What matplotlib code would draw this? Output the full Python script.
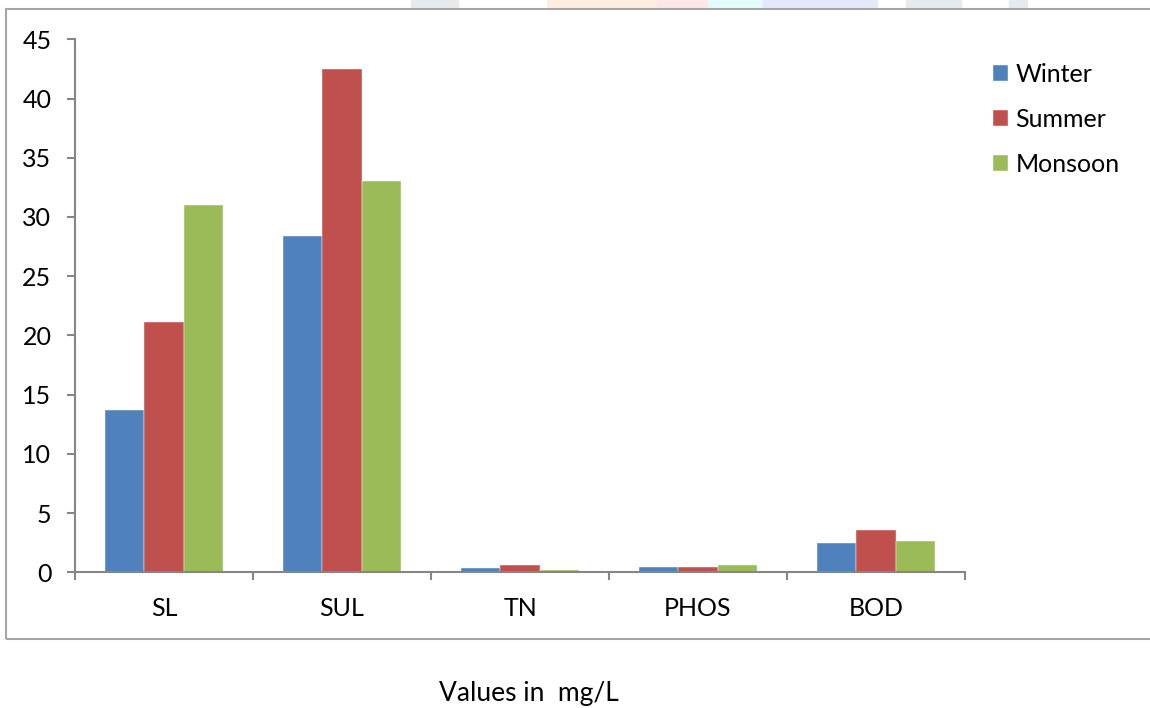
import matplotlib.pyplot as plt
import matplotlib.patches as mpatches
import numpy as np

plt.rcParams['font.family'] = ['Lato', 'DejaVu Sans']

categories = ["SL", "SUL", "TN", "PHOS", "BOD"]
seasons = ["Winter", "Summer", "Monsoon"]
winter = [13.7, 28.4, 0.34, 0.42, 2.45]
summer = [21.1, 42.5, 0.59, 0.45, 3.6]
monsoon = [31.0, 33.0, 0.19, 0.59, 2.67]
colors = ["#4F81BD", "#C0504D", "#9BBB59"]

W, H = 1150, 708
fs = 18
fig = plt.figure(figsize=(W / 100, H / 100), dpi=100)
ax = fig.add_axes([75 / W, 1 - 572.3 / H, (965 - 75) / W, (572.3 - 39.3) / H])

x = np.arange(len(categories))
bw = 2 / 9
for i, (vals, name) in enumerate(zip([winter, summer, monsoon], seasons)):
    ax.bar(x + (i - 1) * bw, vals, bw, color=colors[i], label=name,
           edgecolor="white", linewidth=0.3)

ax.set_xlim(-0.5, len(categories) - 0.5)
ax.set_ylim(0, 45)
ax.set_yticks(range(0, 46, 5))
ax.set_xticks(x)
ax.set_xticklabels(categories)
ax.set_xticks(np.arange(-0.5, len(categories), 1), minor=True)

axis_gray = "#868686"
for s in ["top", "right"]:
    ax.spines[s].set_visible(False)
for s in ["left", "bottom"]:
    ax.spines[s].set_color(axis_gray)
    ax.spines[s].set_linewidth(1.5)

ax.tick_params(axis="y", length=6, width=1.5, color=axis_gray, pad=11, labelsize=fs)
ax.tick_params(axis="x", which="major", length=0, pad=18, labelsize=fs)
ax.tick_params(axis="x", which="minor", length=6, width=1.5, color=axis_gray)

ax.legend(loc="upper left", bbox_to_anchor=(993 / W, 1 - 63 / H),
          bbox_transform=fig.transFigure, frameon=False, fontsize=fs,
          handlelength=0.6, handleheight=0.6, handletextpad=0.3,
          labelspacing=0.88, borderpad=0, borderaxespad=0)

fig.text(529 / W, 1 - 694 / H, "Values in  mg/L", ha="center", va="center", fontsize=19)

# chart border (right edge cropped off)
fig.patches.append(mpatches.Rectangle((6 / W, 1 - 639 / H), 1.2, (639 - 9) / H,
                                      transform=fig.transFigure, fill=False,
                                      edgecolor="#a6a6a6", linewidth=1.5))

# faint page watermark showing above the chart
marks = [(411, 458, "#e6eaec"), (547, 657, "#fdeedf"), (657, 708, "#fde6e8"),
         (708, 763, "#e2fbfb"), (763, 877, "#e5e7fa"), (906, 961, "#e6eaec"),
         (1009, 1027, "#e6eaec")]
for x0, x1, c in marks:
    fig.patches.append(mpatches.Rectangle((x0 / W, 1 - 8 / H), (x1 - x0) / W, 8 / H,
                                          transform=fig.transFigure, color=c, zorder=0))

fig.savefig("out.png", dpi=100)
